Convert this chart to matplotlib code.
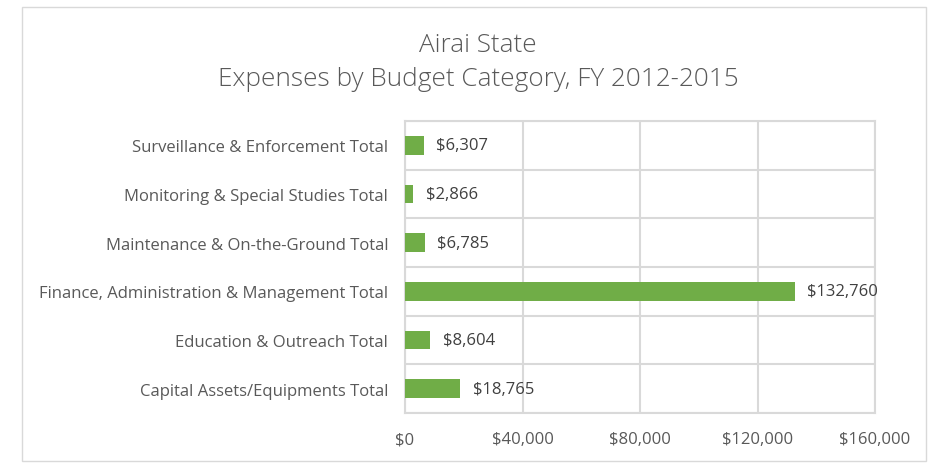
import matplotlib.pyplot as plt
from matplotlib.patches import Rectangle
from matplotlib.ticker import FuncFormatter
import numpy as np

categories = [
    'Capital Assets/Equipments Total',
    'Education & Outreach Total',
    'Finance, Administration & Management Total',
    'Maintenance & On-the-Ground Total',
    'Monitoring & Special Studies Total',
    'Surveillance & Enforcement Total',
]
values = [18765, 8604, 132760, 6785, 2866, 6307]
x_ticks = [0, 40000, 80000, 120000, 160000]

plt.rcParams['font.family'] = ['Open Sans', 'DejaVu Sans']
text_color = '#595959'
grid_color = '#D9D9D9'
bar_color = '#70AD47'

fig = plt.figure(figsize=(9.49, 4.64), dpi=100)
fig.patches.append(Rectangle((22 / 949, 2 / 464), 904 / 949, 454 / 464,
                             transform=fig.transFigure, fill=False,
                             edgecolor=grid_color, linewidth=1.0))

ax = fig.add_axes([405 / 949, 1 - 414 / 464, 470 / 949, 292 / 464])
y = np.arange(len(categories))
bars = ax.barh(y, values, height=0.38, color=bar_color, zorder=3)

for yi, v in zip(y, values):
    ax.annotate(f'${v:,}', (v, yi), xytext=(9, 0), textcoords='offset points',
                va='center', ha='left', fontsize=12, color='#404040')

ax.set_xlim(0, 160000)
ax.set_ylim(-0.5, len(categories) - 0.5)
ax.set_xticks(x_ticks)
ax.xaxis.set_major_formatter(FuncFormatter(lambda v, p: f'${v:,.0f}'))
ax.set_yticks(y)
ax.set_yticklabels(categories)
ax.set_yticks(np.arange(-0.5, len(categories)), minor=True)
ax.tick_params(axis='both', length=0, labelsize=12, labelcolor=text_color)
ax.tick_params(axis='y', which='both', length=0, pad=12)
ax.tick_params(axis='x', pad=13)
ax.grid(axis='x', color=grid_color, linewidth=1.5, zorder=0)
ax.grid(axis='y', which='minor', color=grid_color, linewidth=1.5, zorder=0)
for s in ax.spines.values():
    s.set_color(grid_color)
    s.set_linewidth(1.5)

fig.text(478 / 949, 1 - 45 / 464, 'Airai State', ha='center', va='center',
         fontsize=18.8, fontweight='light', color=text_color)
fig.text(478 / 949, 1 - 79 / 464, 'Expenses by Budget Category, FY 2012-2015',
         ha='center', va='center', fontsize=18.8, fontweight='light',
         color=text_color)

fig.savefig('out.png', dpi=100)
